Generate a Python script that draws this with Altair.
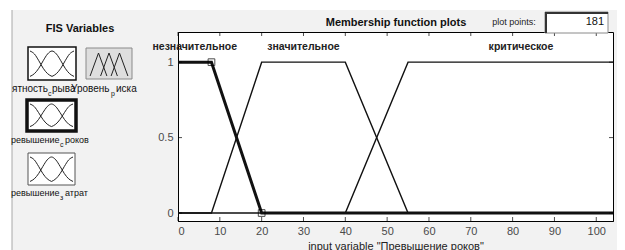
import altair as alt
import pandas as pd

# ---------------- data ----------------
mf_names = ["незначительное", "значительное", "критическое"]
nez_x = [0, 8, 20, 104]
nez_y = [1, 1, 0, 0]
zn_x = [0, 8, 20, 40, 55, 104]
zn_y = [0, 0, 1, 1, 0, 0]
kr_x = [0, 40, 55, 104]
kr_y = [0, 0, 1, 1]
label_x = [4, 30, 82]
sel_pts_x = [8, 20]
sel_pts_y = [1, 0]
x_ticks = [0, 10, 20, 30, 40, 50, 60, 70, 80, 90, 100]
y_ticks = [0, 0.5, 1]
x_domain = [0, 104]
y_domain = [-0.053, 1.2]

# icon pictograms (unit square)
gauss_d = [0, 0.1, 0.2, 0.3, 0.4, 0.5]
gauss_v = [1.0, 0.89, 0.64, 0.36, 0.16, 0.06]
tri_peaks = [0.25, 0.5, 0.75]
tri_half = 0.2

# ---------------- layout ----------------
W, H = 435, 189
OX, OY = 178, 32  # page position of plot origin
FONT = "Liberation Sans"


def px(x):
    return x - OX


def py(y):
    return y - OY


dummy = pd.DataFrame({"d": [0]})

thin = pd.DataFrame({
    "x": zn_x + kr_x,
    "y": zn_y + kr_y,
    "mf": [mf_names[1]] * len(zn_x) + [mf_names[2]] * len(kr_x),
})
thick = pd.DataFrame({"x": nez_x, "y": nez_y, "mf": [mf_names[0]] * len(nez_x)})
pts = pd.DataFrame({"x": sel_pts_x, "y": sel_pts_y})
labs = pd.DataFrame({"x": label_x, "t": mf_names})
xt = pd.DataFrame({"x": x_ticks})
yt = pd.DataFrame({"y": y_ticks})


def xs():
    return alt.Scale(domain=x_domain, nice=False, zero=False)


def ys():
    return alt.Scale(domain=y_domain, nice=False, zero=False)


layers = []

# white strips outside panel
layers.append(alt.Chart(dummy).mark_rect(fill="white").encode(
    x=alt.value(px(8)), x2=alt.value(px(12)), y=alt.value(py(8)), y2=alt.value(py(260))))
layers.append(alt.Chart(dummy).mark_rect(fill="white").encode(
    x=alt.value(px(8)), x2=alt.value(px(620)), y=alt.value(py(8)), y2=alt.value(py(10))))
layers.append(alt.Chart(dummy).mark_rule(color="#a8a8a8", strokeWidth=1).encode(
    x=alt.value(px(12)), y=alt.value(py(10)), y2=alt.value(py(260))))

# thin MF lines with axes
layers.append(alt.Chart(thin).mark_line(color="#111", strokeWidth=1.4).encode(
    x=alt.X("x:Q", scale=xs(), axis=alt.Axis(orient="bottom", values=x_ticks, ticks=False,
            grid=False, domainColor="black", labelColor="#4a4a4a", labelFontSize=11,
            labelFont=FONT, labelPadding=4, title='input variable "Превышение роков"',
            titleFont=FONT, titleFontSize=11, titleFontWeight="normal", titleColor="#222",
            titlePadding=4)),
    y=alt.Y("y:Q", scale=ys(), axis=alt.Axis(orient="left", values=y_ticks, ticks=False,
            format="~g", grid=False, domainColor="black", labelColor="#4a4a4a",
            labelFontSize=11, labelFont=FONT, labelPadding=5, title=None)),
    detail="mf:N"))

# thick selected MF
layers.append(alt.Chart(thick).mark_line(color="#111", strokeWidth=3).encode(
    x=alt.X("x:Q", scale=xs(), axis=None), y=alt.Y("y:Q", scale=ys(), axis=None)))
layers.append(alt.Chart(pts).mark_point(shape="square", filled=False, color="black",
                                        size=45, strokeWidth=1).encode(
    x=alt.X("x:Q", scale=xs(), axis=None), y=alt.Y("y:Q", scale=ys(), axis=None)))

# MF labels
layers.append(alt.Chart(labs).mark_text(font=FONT, fontSize=10.5, fontWeight="bold",
                                        color="#222", baseline="middle").encode(
    x=alt.X("x:Q", scale=xs(), axis=None), y=alt.value(py(47)), text="t:N"))

# inward ticks
for yv in [2, H - 2]:
    layers.append(alt.Chart(xt).mark_tick(orient="vertical", size=4, thickness=1,
                                          color="black").encode(
        x=alt.X("x:Q", scale=xs(), axis=None), y=alt.value(yv)))
for xv in [2, W - 2]:
    layers.append(alt.Chart(yt).mark_tick(orient="horizontal", size=4, thickness=1,
                                          color="black").encode(
        y=alt.Y("y:Q", scale=ys(), axis=None), x=alt.value(xv)))

# header texts
layers.append(alt.Chart(dummy).mark_text(text="Membership function plots", font=FONT,
                                         fontSize=11, fontWeight="bold", color="#111",
                                         align="center", baseline="middle").encode(
    x=alt.value(px(396)), y=alt.value(py(23))))
layers.append(alt.Chart(dummy).mark_text(text="plot points:", font=FONT, fontSize=9,
                                         color="#222", align="center", baseline="middle").encode(
    x=alt.value(px(514)), y=alt.value(py(22))))
layers.append(alt.Chart(dummy).mark_rect(fill="white", stroke="#8a8a8a", strokeWidth=1).encode(
    x=alt.value(px(545)), x2=alt.value(px(608)), y=alt.value(py(12)), y2=alt.value(py(33))))
layers.append(alt.Chart(dummy).mark_rule(color="#333", strokeWidth=2).encode(
    x=alt.value(px(546)), y=alt.value(py(12)), y2=alt.value(py(33))))
layers.append(alt.Chart(dummy).mark_rule(color="#333", strokeWidth=2).encode(
    x=alt.value(px(545)), x2=alt.value(px(608)), y=alt.value(py(13))))
layers.append(alt.Chart(dummy).mark_text(text="181", font=FONT, fontSize=11, color="#111",
                                         align="right", baseline="middle").encode(
    x=alt.value(px(604)), y=alt.value(py(22))))

# left panel
layers.append(alt.Chart(dummy).mark_text(text="FIS Variables", font=FONT, fontSize=11,
                                         fontWeight="bold", color="#111",
                                         align="center", baseline="middle").encode(
    x=alt.value(px(80)), y=alt.value(py(29))))

boxes = [
    # x0, x1, y0, y1, fill, stroke, sw
    (28, 76, 47, 80, "white", "#111", 1.5),
    (86, 132, 48, 79, "#dedede", "#8a8a8a", 1),
    (27, 76, 100, 131, "white", "#111", 3.5),
    (28, 75, 153, 185, "white", "#555", 1),
]
for (x0, x1, y0, y1, f, s, sw) in boxes:
    layers.append(alt.Chart(dummy).mark_rect(fill=f, stroke=s, strokeWidth=sw).encode(
        x=alt.value(px(x0)), x2=alt.value(px(x1)), y=alt.value(py(y0)), y2=alt.value(py(y1))))

# gaussian icon curves
gu, gv, gc = [], [], []
for d, v in zip(gauss_d, gauss_v):
    gu.append(d); gv.append(v); gc.append("a")
for d, v in zip(gauss_d[::-1], gauss_v[::-1]):
    gu.append(0.5 - d); gv.append(v); gc.append("b")
for d, v in zip(gauss_d[1:], gauss_v[1:]):
    gu.append(0.5 + d); gv.append(v); gc.append("b")
for d, v in zip(gauss_d, gauss_v):
    gu.append(1 - d); gv.append(v); gc.append("c")
gdf = pd.DataFrame({"u": gu, "v": gv, "c": gc})

tu, tv, tc = [], [], []
for i, p in enumerate(tri_peaks):
    tu += [p - tri_half, p, p + tri_half]
    tv += [0, 1, 0]
    tc += [str(i)] * 3
tdf = pd.DataFrame({"u": tu, "v": tv, "c": tc})

icons = [
    (gdf, 30, 74, 78, 51, "monotone"),
    (tdf, 88, 130, 76, 53, "linear"),
    (gdf, 30, 73, 128, 104, "monotone"),
    (gdf, 30, 73, 183, 157, "monotone"),
]
for (df, x0, x1, yb, yt_, interp) in icons:
    layers.append(alt.Chart(df).mark_line(color="#222", strokeWidth=1, interpolate=interp).encode(
        x=alt.X("u:Q", scale=alt.Scale(domain=[0, 1], range=[px(x0), px(x1)], nice=False, zero=False), axis=None),
        y=alt.Y("v:Q", scale=alt.Scale(domain=[0, 1], range=[py(yb), py(yt_)], nice=False, zero=False), axis=None),
        detail="c:N"))

# variable names (with TeX-like subscripts)
texts = [
    ("ятность", 12, 89, 10), ("с", 48, 94, 7), ("рыва", 52, 89, 10),
    ("Уровень", 71, 89, 10), ("р", 111, 94, 7), ("иска", 116, 89, 10),
    ("ревышение", 11, 140, 9), ("с", 60, 145, 7), ("роков", 65, 140, 9),
    ("ревышение", 11, 193, 9), ("з", 60, 198, 7), ("атрат", 65, 193, 9),
]
for (t, x, y, fs) in texts:
    layers.append(alt.Chart(dummy).mark_text(text=t, font=FONT, fontSize=fs, color="#111",
                                             align="left", baseline="middle").encode(
        x=alt.value(px(x)), y=alt.value(py(y))))

chart = alt.layer(*layers).resolve_scale(x="independent", y="independent").properties(
    width=W, height=H,
    autosize=alt.AutoSizeParams(type="none"),
    padding={"left": 170, "top": 24, "right": 4, "bottom": 30},
    background="#f2f2f2",
).configure_view(fill="white", stroke="black", strokeWidth=1)

chart.save("out.html", embed_options={"renderer": "svg", "actions": False})
